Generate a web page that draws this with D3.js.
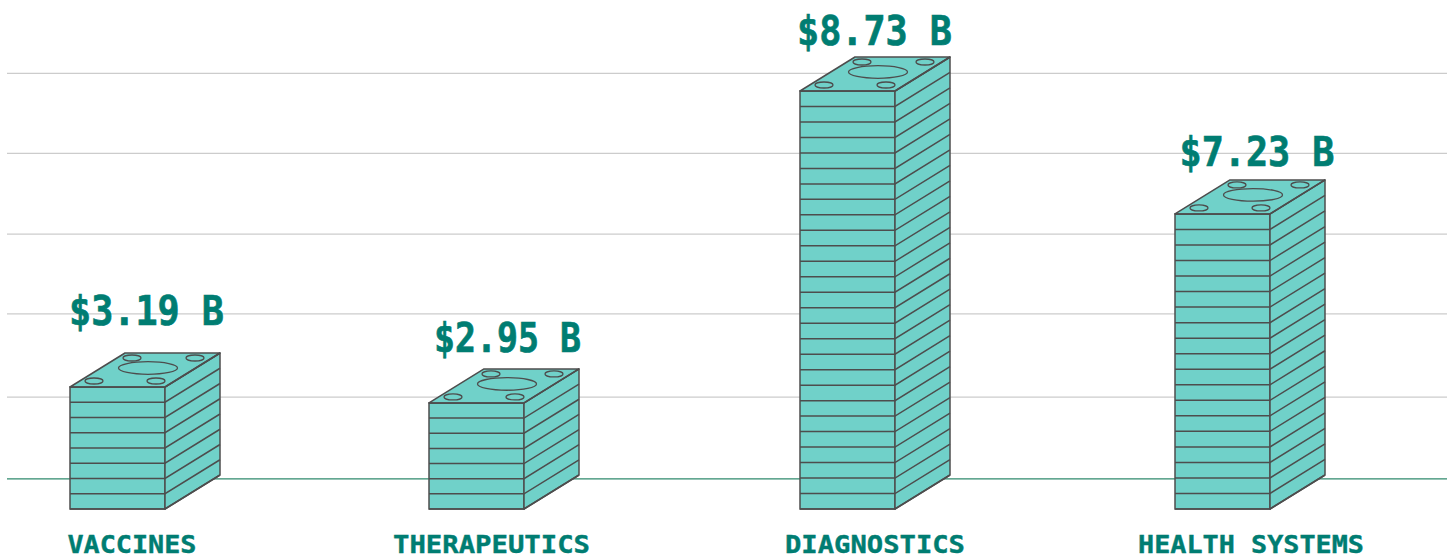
<!DOCTYPE html>
<html>
<head>
<meta charset="utf-8">
<script src="https://cdn.jsdelivr.net/npm/d3@7"></script>
<style>
  html, body { margin: 0; padding: 0; background: #fff; }
  svg { display: block; }
  text { font-family: "DejaVu Sans Mono", monospace; font-weight: bold; fill: #007d72; stroke: #007d72; }
</style>
</head>
<body>
<div id="chart"></div>
<script>
var categories = ["VACCINES", "THERAPEUTICS", "DIAGNOSTICS", "HEALTH SYSTEMS"];
var amounts = [3.19, 2.95, 8.73, 7.23];
// the stacks are drawn as whole bills, counted off the picture
var billCounts = [8, 7, 27, 19];
// stack heights on the y scale below
var stackHeights = [7.88, 6.85, 27, 19.06];
// gridlines on the same scale
var gridTicks = [1.95, 7.23, 12.6, 17.76, 22.97, 28.14];

var width = 1453, height = 556;
var depthX = 55, depthY = 34, frontW = 95;

var svg = d3.select("#chart").append("svg")
  .attr("width", width)
  .attr("height", height);

var x = d3.scaleOrdinal().domain(categories).range([70, 429, 800, 1175]);
var labelX = d3.scaleOrdinal().domain(categories).range([132, 491.5, 875, 1251]);
var labelW = d3.scaleOrdinal().domain(categories).range([129, 197, 180, 226]);
var valueX = d3.scaleOrdinal().domain(categories).range([146.5, 507.5, 874.5, 1257]);
var valueGap = d3.scaleOrdinal().domain(categories).range([62, 50.5, 46, 48]);
var y = d3.scaleLinear().domain([0, 27]).range([509, 91]);

// grid
svg.selectAll(".grid")
  .data(gridTicks)
  .enter().append("line")
  .attr("class", "grid")
  .attr("x1", 7)
  .attr("x2", 1447)
  .attr("y1", function(d) { return y(d); })
  .attr("y2", function(d) { return y(d); })
  .attr("stroke", function(d, i) { return i == 0 ? "#2f8a6c" : "#cccccc"; })
  .attr("stroke-width", 1.3);

var stroke = "#4d4d4d", fill = "#70d1c9", sw = 1.5;
var stacks = svg.selectAll(".stack")
  .data(categories)
  .enter().append("g")
  .attr("class", "stack");

stacks.each(function(name, i) {
  var g = d3.select(this);
  var x0 = x(name), x1 = x0 + frontW;
  var top = y(stackHeights[i]), bottom = y(0);
  var billY = d3.scaleLinear().domain([0, billCounts[i]]).range([bottom, top]);
  var bills = d3.range(billCounts[i] + 1);

  // front, side and top faces
  g.append("rect")
    .attr("x", x0).attr("y", top)
    .attr("width", frontW).attr("height", bottom - top)
    .attr("fill", fill).attr("stroke", stroke).attr("stroke-width", sw);
  g.append("path")
    .attr("d", d3.line()([[x1, top], [x1 + depthX, top - depthY], [x1 + depthX, bottom - depthY], [x1, bottom]]) + "Z")
    .attr("fill", fill).attr("stroke", stroke).attr("stroke-width", sw).attr("stroke-linejoin", "round");
  g.append("path")
    .attr("d", d3.line()([[x0, top], [x0 + depthX, top - depthY], [x1 + depthX, top - depthY], [x1, top]]) + "Z")
    .attr("fill", fill).attr("stroke", stroke).attr("stroke-width", sw).attr("stroke-linejoin", "round");

  // bill edges
  g.selectAll(".edge")
    .data(bills)
    .enter().append("path")
    .attr("class", "edge")
    .attr("d", function(b) {
      return d3.line()([[x0, billY(b)], [x1, billY(b)], [x1 + depthX, billY(b) - depthY]]);
    })
    .attr("fill", "none").attr("stroke", stroke).attr("stroke-width", sw);

  // holes on the top bill
  g.selectAll(".hole")
    .data([[24, -6, 9, 3], [86, -6, 9, 3], [62, -29, 9, 3], [125, -29, 9, 3], [78, -19, 29.5, 6.3]])
    .enter().append("ellipse")
    .attr("class", "hole")
    .attr("cx", function(d) { return x0 + d[0]; })
    .attr("cy", function(d) { return top + d[1]; })
    .attr("rx", function(d) { return d[2]; })
    .attr("ry", function(d) { return d[3]; })
    .attr("fill", "none").attr("stroke", stroke).attr("stroke-width", 1.3);

  var amount = "$" + d3.format(".2f")(amounts[i]) + " B";
  g.append("text")
    .attr("x", valueX(name))
    .attr("y", top - valueGap(name))
    .attr("text-anchor", "middle")
    .attr("font-size", 41)
    .style("stroke-width", "0.7px")
    .attr("textLength", i == 1 ? 147 : 155)
    .attr("lengthAdjust", "spacingAndGlyphs")
    .text(amount);

  g.append("text")
    .attr("x", labelX(name))
    .attr("y", 553)
    .attr("text-anchor", "middle")
    .attr("font-size", 25)
    .style("stroke-width", "0.4px")
    .attr("textLength", labelW(name))
    .attr("lengthAdjust", "spacingAndGlyphs")
    .text(name);
});
</script>
</body>
</html>
